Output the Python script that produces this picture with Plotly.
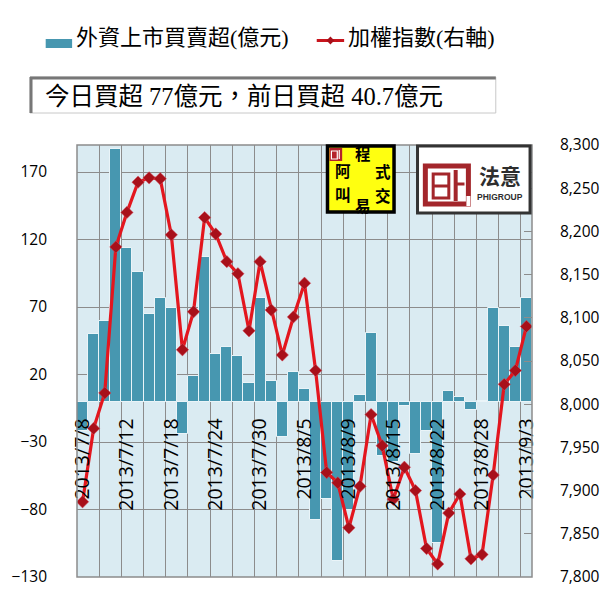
import plotly.graph_objects as go

# ---------------- data ----------------
dates = ["2013/7/8", "2013/7/9", "2013/7/10", "2013/7/11", "2013/7/12",
         "2013/7/15", "2013/7/16", "2013/7/17", "2013/7/18", "2013/7/19",
         "2013/7/22", "2013/7/23", "2013/7/24", "2013/7/25", "2013/7/26",
         "2013/7/29", "2013/7/30", "2013/7/31", "2013/8/1", "2013/8/2",
         "2013/8/5", "2013/8/6", "2013/8/7", "2013/8/8", "2013/8/9",
         "2013/8/12", "2013/8/13", "2013/8/14", "2013/8/15", "2013/8/16",
         "2013/8/19", "2013/8/20", "2013/8/22", "2013/8/23", "2013/8/26",
         "2013/8/27", "2013/8/28", "2013/8/29", "2013/8/30", "2013/9/2",
         "2013/9/3"]

foreign_net = [-22, 50, 60, 187, 114, 96, 65, 77, 69, -24,
               19, 107, 35, 40.5, 34, 14, 77, 15, -26.5, 22,
               9, -88, -72, -118, -80, 5, 51, -40, -45, -3,
               -39, -21.5, -105, 8, 3.5, -6.5, 0.3, 69, 56, 40.7,
               77]

taiex = [7887, 7972, 8013, 8182, 8222, 8257, 8262, 8261, 8196, 8063,
         8107, 8216, 8197, 8165, 8151, 8085, 8165, 8109, 8057, 8101,
         8140, 8039, 7921, 7909, 7857, 7905, 7988, 7952, 7890, 7927,
         7900, 7833, 7815, 7874, 7896, 7821, 7826, 7918, 8023, 8039,
         8090]

left_ticks = [-130, -80, -30, 20, 70, 120, 170]
left_range = [-130, 190]
right_range = [7800, 8300]
label_every = 4

bar_name = "外資上市買賣超(億元)"
line_name = "加權指數(右軸)"
headline = "今日買超 77億元，前日買超 40.7億元"

# ---------------- styling ----------------
W, H = 612, 604
ML, MR, MT, MB = 70, 77, 145, 27
PW, PH = W - ML - MR, H - MT - MB
BAR_C = "#4797B0"
LINE_C = "#E3161E"
MARK_C = "#A8101A"
GRID_C = "#8C8C8C"
BG_C = "#DAEBF2"
CJK = "Liberation Serif, Noto Sans CJK TC, sans-serif"
NUM = "Open Sans, Lato, sans-serif"


def px(x):
    return (x - ML) / PW


def py(y):
    return (H - MB - y) / PH


idx = list(range(len(dates)))

fig = go.Figure()
fig.add_trace(go.Bar(
    x=idx, y=foreign_net, name=bar_name,
    marker=dict(color=BAR_C, line=dict(color="#EAF4F8", width=1)),
    yaxis="y", showlegend=False))
fig.add_trace(go.Scatter(
    x=idx, y=taiex, name=line_name, mode="lines+markers",
    line=dict(color=LINE_C, width=3.2),
    marker=dict(symbol="diamond", size=9.5, color=MARK_C,
                line=dict(color="#D85060", width=0.5)),
    yaxis="y2", showlegend=False))

zero_pos = (0 - left_range[0]) / (left_range[1] - left_range[0])

fig.update_layout(
    width=W, height=H,
    margin=dict(l=ML, r=MR, t=MT, b=MB, pad=0),
    paper_bgcolor="white", plot_bgcolor=BG_C,
    bargap=0,
    xaxis=dict(
        range=[-0.5, len(dates) - 0.5],
        tickmode="array",
        tickvals=idx[::label_every],
        ticktext=dates[::label_every],
        tickangle=-90,
        tickfont=dict(family=NUM, size=19.5, color="black"),
        anchor="free", position=zero_pos,
        showgrid=False, zeroline=False, showline=False, ticks="",
        ticklabelstandoff=12,
        minor=dict(tick0=-0.5, dtick=2, showgrid=True,
                   gridcolor=GRID_C, gridwidth=1, ticks=""),
    ),
    yaxis=dict(
        range=left_range, tickmode="array", tickvals=left_ticks,
        tickfont=dict(family=NUM, size=15.5, color="black"),
        showgrid=True, gridcolor=GRID_C, gridwidth=1,
        zeroline=False, showline=False, ticks="",
        ticklabelstandoff=29,
    ),
    yaxis2=dict(
        range=right_range, dtick=50, tick0=7800, tickformat=",",
        overlaying="y", side="right",
        tickfont=dict(family=NUM, size=15.5, color="black"),
        showgrid=False, zeroline=False, showline=False,
        ticks="inside", ticklen=8, tickcolor=GRID_C,
        ticklabelstandoff=27,
    ),
)

shapes = []
ann = []

# plot border
shapes.append(dict(type="rect", xref="paper", yref="paper", x0=0, x1=1, y0=0, y1=1,
                   line=dict(color=GRID_C, width=1.5), layer="above"))

# legend
shapes.append(dict(type="rect", xref="paper", yref="paper",
                   x0=px(38), x1=px(65), y0=py(48), y1=py(39),
                   fillcolor=BAR_C, line=dict(width=0)))
ann.append(dict(xref="paper", yref="paper", x=px(67), y=py(37), text=bar_name,
                showarrow=False, xanchor="left", yanchor="middle",
                font=dict(family=CJK, size=22, color="black")))
shapes.append(dict(type="line", xref="paper", yref="paper",
                   x0=px(315), x1=px(343), y0=py(40.5), y1=py(40.5),
                   line=dict(color="#C8151D", width=3)))
shapes.append(dict(type="path", xref="paper", yref="paper",
                   path="M {a},{b} L {c},{d} L {a},{e} L {f},{d} Z".format(
                       a=px(329), b=py(36.5), c=px(333), d=py(40.5), e=py(44.5), f=px(325)),
                   fillcolor=MARK_C, line=dict(width=0)))
ann.append(dict(xref="paper", yref="paper", x=px(345), y=py(37), text=line_name,
                showarrow=False, xanchor="left", yanchor="middle",
                font=dict(family=CJK, size=22, color="black")))

# headline box
shapes.append(dict(type="rect", xref="paper", yref="paper",
                   x0=px(22), x1=px(498), y0=py(113), y1=py(77),
                   fillcolor="white", line=dict(color="#C8C8C8", width=1)))
shapes.append(dict(type="line", xref="paper", yref="paper",
                   x0=px(23), x1=px(23), y0=py(113), y1=py(77),
                   line=dict(color="#777777", width=3)))
shapes.append(dict(type="line", xref="paper", yref="paper",
                   x0=px(22), x1=px(498), y0=py(78), y1=py(78),
                   line=dict(color="#777777", width=3)))
ann.append(dict(xref="paper", yref="paper", x=px(35), y=py(96), text=headline,
                showarrow=False, xanchor="left", yanchor="middle",
                font=dict(family=CJK, size=24.5, color="black")))

# logo 1 (yellow)
shapes.append(dict(type="rect", xref="paper", yref="paper",
                   x0=px(326), x1=px(394), y0=py(212), y1=py(146),
                   fillcolor="#FFFF10", line=dict(color="black", width=3.5), layer="above"))
shapes.append(dict(type="rect", xref="paper", yref="paper",
                   x0=px(328), x1=px(341), y0=py(161), y1=py(148),
                   fillcolor="#B5222A", line=dict(color="#B5222A", width=0), layer="above"))
shapes.append(dict(type="rect", xref="paper", yref="paper",
                   x0=px(330), x1=px(336), y0=py(159), y1=py(151),
                   fillcolor="rgba(0,0,0,0)", line=dict(color="white", width=1.2), layer="above"))
shapes.append(dict(type="line", xref="paper", yref="paper",
                   x0=px(338), x1=px(338), y0=py(159), y1=py(150),
                   line=dict(color="white", width=1.2), layer="above"))
LOGO_F = dict(family="Noto Sans CJK TC", size=15.5, color="black")
logo_chars = [("程", 362, 165, "bottom"), ("阿", 342, 181.5, "bottom"),
              ("叫", 342, 181.5, "top"), ("式", 383, 182.5, "bottom"),
              ("交", 383, 182.5, "top"), ("易", 362, 192.5, "top")]
for ch, cx, cy, ya in logo_chars:
    ann.append(dict(xref="paper", yref="paper", x=px(cx), y=py(cy), text="<b>" + ch + "</b>",
                    showarrow=False, xanchor="center", yanchor=ya, borderpad=0,
                    font=LOGO_F))

# logo 2 (PHIGROUP)
shapes.append(dict(type="rect", xref="paper", yref="paper",
                   x0=px(418), x1=px(533), y0=py(213), y1=py(146),
                   fillcolor="white", line=dict(color="#333333", width=3), layer="above"))
RED = "#A3262B"
shapes.append(dict(type="rect", xref="paper", yref="paper",
                   x0=px(426), x1=px(470), y0=py(204), y1=py(166),
                   fillcolor="rgba(0,0,0,0)", line=dict(color=RED, width=5), layer="above"))
shapes.append(dict(type="rect", xref="paper", yref="paper",
                   x0=px(434), x1=px(450), y0=py(198), y1=py(174),
                   fillcolor="rgba(0,0,0,0)", line=dict(color=RED, width=3), layer="above"))
shapes.append(dict(type="line", xref="paper", yref="paper",
                   x0=px(434), x1=px(450), y0=py(186), y1=py(186),
                   line=dict(color=RED, width=3), layer="above"))
shapes.append(dict(type="line", xref="paper", yref="paper",
                   x0=px(457), x1=px(457), y0=py(201), y1=py(170),
                   line=dict(color=RED, width=4), layer="above"))
shapes.append(dict(type="line", xref="paper", yref="paper",
                   x0=px(457), x1=px(466), y0=py(184), y1=py(184),
                   line=dict(color=RED, width=3), layer="above"))
shapes.append(dict(type="line", xref="paper", yref="paper",
                   x0=px(470), x1=px(470), y0=py(196), y1=py(206),
                   line=dict(color="white", width=4), layer="above"))
ann.append(dict(xref="paper", yref="paper", x=px(502), y=py(191), text="<b>法意</b>",
                showarrow=False, xanchor="center", yanchor="bottom", borderpad=0,
                font=dict(family="Noto Sans CJK TC", size=21, color="#2E2E2E")))
ann.append(dict(xref="paper", yref="paper", x=px(502), y=py(191.5), text="<b>PHIGROUP</b>",
                showarrow=False, xanchor="center", yanchor="top", borderpad=0,
                font=dict(family="Liberation Sans Narrow, Liberation Sans, sans-serif",
                          size=8.5, color="#2E2E2E")))

fig.update_layout(shapes=shapes, annotations=ann)
fig.write_html("out.html")
